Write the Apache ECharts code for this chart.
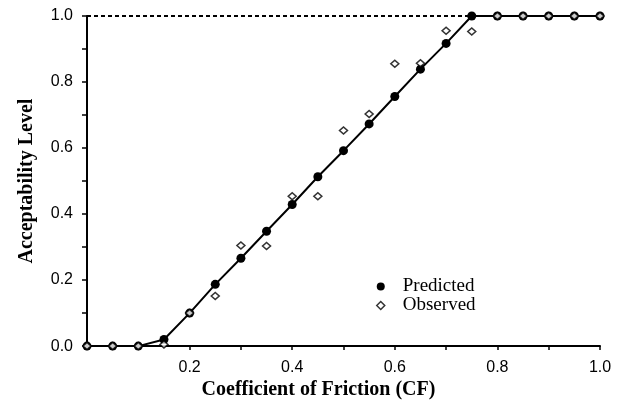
<!DOCTYPE html>
<html>
<head>
<meta charset="utf-8">
<script src="https://cdn.jsdelivr.net/npm/echarts@6/dist/echarts.min.js"></script>
<style>
  html, body { margin: 0; padding: 0; background: #fff; }
  #main { width: 625px; height: 405px; }
</style>
</head>
<body>
<div id="main"></div>
<script>
// coefficient of friction values
var cf = [0, 0.05, 0.1, 0.15, 0.2, 0.25, 0.3, 0.35, 0.4, 0.45, 0.5,
          0.55, 0.6, 0.65, 0.7, 0.75, 0.8, 0.85, 0.9, 0.95, 1.0];
// predicted acceptability
var predicted = [0, 0, 0, 0.02, 0.10, 0.187, 0.266, 0.348, 0.429, 0.513, 0.592,
                 0.673, 0.756, 0.839, 0.917, 1.0, 1.0, 1.0, 1.0, 1.0, 1.0];
// observed acceptability
var observed = [0, 0, 0, 0.005, 0.10, 0.152, 0.305, 0.303, 0.454, 0.454, 0.653,
                0.703, 0.855, 0.857, 0.955, 0.953, 1.0, 1.0, 1.0, 1.0, 1.0];
// dashed reference line at full acceptability
var refX = [0, 0.75];
var refY = [1.0, 1.0];

function pairs(xs, ys) {
    return xs.map(function (x, i) { return [x, ys[i]]; });
}

var chart = echarts.init(document.getElementById('main'));

var option = {
    animation: false,
    backgroundColor: '#fff',
    grid: { left: 87, right: 25, top: 16, bottom: 58 },
    legend: {
        orient: 'vertical',
        left: 371,
        top: 272,
        itemWidth: 8,
        itemHeight: 8,
        itemGap: 0,
        data: [
            { name: 'Predicted', icon: 'circle', itemStyle: { color: '#000' } },
            { name: 'Observed', icon: 'diamond', itemStyle: { color: '#fff', borderColor: '#000', borderWidth: 1.5 } }
        ],
        textStyle: { fontFamily: 'Liberation Serif', fontSize: 19, lineHeight: 17, color: '#000', padding: [0, 0, 0, 13] }
    },
    xAxis: {
        type: 'value',
        min: 0,
        max: 1,
        interval: 0.1,
        name: 'Coefficient of Friction (CF)',
        nameLocation: 'middle',
        nameGap: 31,
        nameTextStyle: { fontFamily: 'Liberation Serif', fontWeight: 'bold', fontSize: 20, color: '#000', padding: [0, 50, 0, 0] },
        axisLine: { lineStyle: { color: '#000', width: 2 } },
        axisTick: { length: 4, lineStyle: { color: '#000', width: 1.5 } },
        splitLine: { show: false },
        axisLabel: {
            color: '#000',
            fontFamily: 'Liberation Sans',
            fontSize: 16,
            margin: 13,
            formatter: function (v) {
                var k = Math.round(v * 10);
                return (k > 0 && k % 2 === 0) ? (k / 10).toFixed(1) : '';
            }
        }
    },
    yAxis: {
        type: 'value',
        min: 0,
        max: 1,
        interval: 0.1,
        name: 'Acceptability Level',
        nameLocation: 'middle',
        nameGap: 50,
        nameTextStyle: { fontFamily: 'Liberation Serif', fontWeight: 'bold', fontSize: 20, color: '#000' },
        axisLine: { lineStyle: { color: '#000', width: 2 } },
        axisTick: { length: 5, lineStyle: { color: '#000', width: 1.5 } },
        splitLine: { show: false },
        axisLabel: {
            color: '#000',
            fontFamily: 'Liberation Sans',
            fontSize: 16,
            margin: 14,
            formatter: function (v) {
                var k = Math.round(v * 10);
                return k % 2 === 0 ? (k / 10).toFixed(1) : '';
            }
        }
    },
    series: [
        {
            name: 'ref',
            type: 'line',
            data: pairs(refX, refY),
            symbol: 'none',
            lineStyle: { color: '#000', width: 2, type: [4, 3] },
            silent: true,
            z: 1
        },
        {
            name: 'Predicted',
            type: 'line',
            data: pairs(cf, predicted),
            symbol: 'circle',
            symbolSize: 9,
            itemStyle: { color: '#000' },
            lineStyle: { color: '#000', width: 2 },
            z: 2
        },
        {
            name: 'Observed',
            type: 'scatter',
            data: pairs(cf, observed),
            symbol: 'diamond',
            symbolSize: [8, 7],
            itemStyle: { color: '#fff', borderColor: '#000', borderWidth: 1.5 },
            z: 3
        }
    ]
};

chart.setOption(option);
</script>
</body>
</html>
